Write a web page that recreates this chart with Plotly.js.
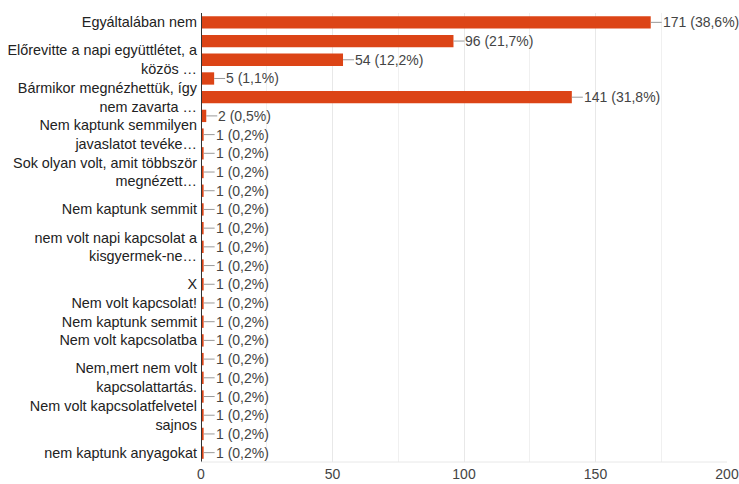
<!DOCTYPE html>
<html>
<head>
<meta charset="utf-8">
<script src="https://cdn.plot.ly/plotly-3.0.1.min.js"></script>
<style>html,body{margin:0;padding:0;background:#fff;}#chart{width:739px;height:484px;}</style>
</head>
<body>
<div id="chart"></div>
<script>
var categories = [
  "Egyáltalában nem",
  "Válasz 2",
  "Előrevitte a napi együttlétet, a közös …",
  "Válasz 4",
  "Bármikor megnézhettük, így nem zavarta …",
  "Válasz 6",
  "Nem kaptunk semmilyen javaslatot tevéke…",
  "Válasz 8",
  "Sok olyan volt, amit többször megnézett…",
  "Válasz 10",
  "Nem kaptunk semmit",
  "Válasz 12",
  "nem volt napi kapcsolat a kisgyermek-ne…",
  "Válasz 14",
  "X",
  "Nem volt kapcsolat!",
  "Nem kaptunk semmit (2)",
  "Nem volt kapcsolatba",
  "Válasz 19",
  "Nem,mert nem volt kapcsolattartás.",
  "Válasz 21",
  "Nem volt kapcsolatfelvetel sajnos",
  "Válasz 23",
  "nem kaptunk anyagokat"
];
var tickLabels = [
  "Egyáltalában nem",
  "",
  "Előrevitte a napi együttlétet, a<br>közös …",
  "",
  "Bármikor megnézhettük, így<br>nem zavarta …",
  "",
  "Nem kaptunk semmilyen<br>javaslatot tevéke…",
  "",
  "Sok olyan volt, amit többször<br>megnézett…",
  "",
  "Nem kaptunk semmit",
  "",
  "nem volt napi kapcsolat a<br>kisgyermek-ne…",
  "",
  "X",
  "Nem volt kapcsolat!",
  "Nem kaptunk semmit",
  "Nem volt kapcsolatba",
  "",
  "Nem,mert nem volt<br>kapcsolattartás.",
  "",
  "Nem volt kapcsolatfelvetel<br>sajnos",
  "",
  "nem kaptunk anyagokat"
];
var counts = [171, 96, 54, 5, 141, 2, 1, 1, 1, 1, 1, 1, 1, 1, 1, 1, 1, 1, 1, 1, 1, 1, 1, 1];
var percents = ["38,6%", "21,7%", "12,2%", "1,1%", "31,8%", "0,5%", "0,2%", "0,2%", "0,2%", "0,2%", "0,2%", "0,2%",
                "0,2%", "0,2%", "0,2%", "0,2%", "0,2%", "0,2%", "0,2%", "0,2%", "0,2%", "0,2%", "0,2%", "0,2%"];
var xTicks = [0, 50, 100, 150, 200];

var FONT = "Liberation Sans, Arial, sans-serif";

var annotations = categories.map(function (c, i) {
  return {
    x: counts[i], y: c, xref: 'x', yref: 'y',
    text: counts[i] + " (" + percents[i] + ")",
    showarrow: true, arrowhead: 0, arrowwidth: 1, arrowcolor: '#999999',
    ax: 11, ay: 0, xanchor: 'left', yanchor: 'middle', borderpad: 0,
    font: {family: FONT, size: 14, color: '#444444'}
  };
});

var trace = {
  type: 'bar', orientation: 'h',
  x: counts, y: categories,
  marker: {color: '#dc4416'},
  hoverinfo: 'none'
};

var layout = {
  width: 739, height: 484,
  margin: {l: 201, r: 12, t: 13, b: 22, pad: 0},
  paper_bgcolor: '#ffffff', plot_bgcolor: '#ffffff',
  bargap: 0.34,
  showlegend: false,
  font: {family: FONT, size: 14, color: '#222222'},
  xaxis: {
    range: [0, 200], tickvals: xTicks, ticktext: xTicks.map(String),
    showgrid: true, gridcolor: '#e8e8e8', gridwidth: 1,
    minor: {dtick: 25, showgrid: true, gridcolor: '#f0f0f0', gridwidth: 1},
    zeroline: false, showline: false, ticks: '',
    ticklabelstandoff: 2,
    tickfont: {family: FONT, size: 14, color: '#444444'},
    fixedrange: true
  },
  yaxis: {
    type: 'category', autorange: 'reversed',
    tickvals: categories, ticktext: tickLabels,
    showgrid: false, zeroline: false, showline: false, ticks: '',
    ticklabelstandoff: 3,
    tickfont: {family: FONT, size: 14.4, color: '#222222'},
    fixedrange: true
  },
  shapes: [
    {type: 'line', xref: 'x', yref: 'paper', x0: 0, x1: 0, y0: 0, y1: 1, line: {color: '#333333', width: 2}},
    {type: 'line', xref: 'paper', yref: 'paper', x0: 0, x1: 1, y0: 0, y1: 0, line: {color: '#e8e8e8', width: 1}}
  ],
  annotations: annotations
};

Plotly.newPlot('chart', [trace], layout, {displayModeBar: false, staticPlot: true});
</script>
</body>
</html>
